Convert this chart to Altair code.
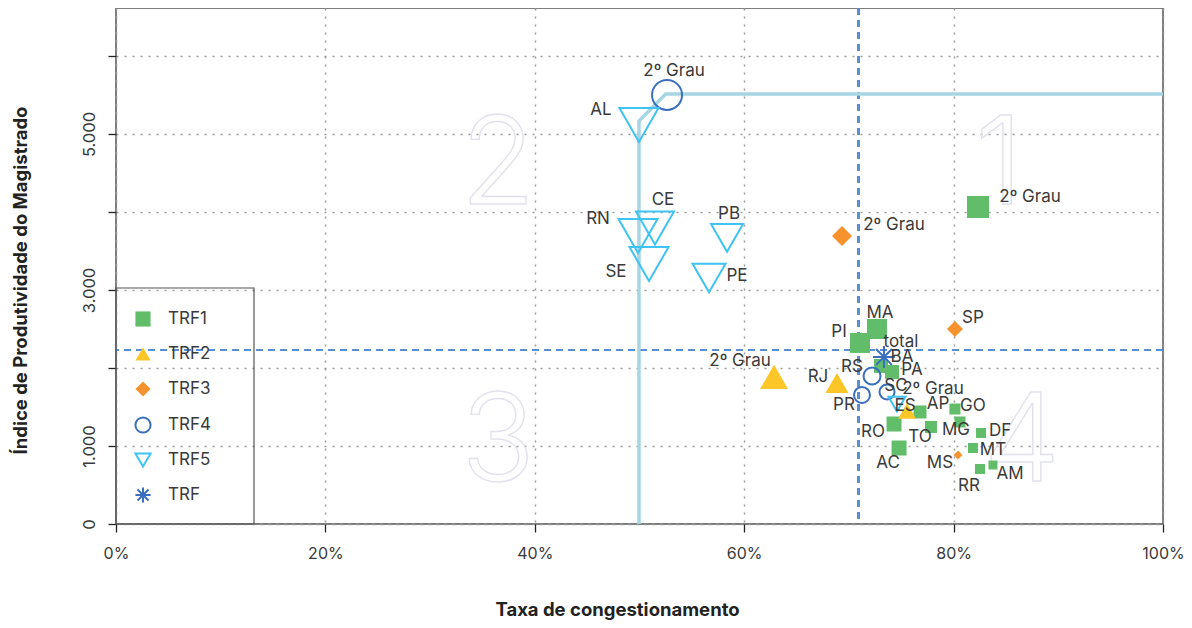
import altair as alt
import pandas as pd

# ---------------- data ----------------
W, H = 1047, 516          # plot area (px)
YMAX = 6615               # top of the y scale

grupos = ["TRF1"] * 15 + ["TRF2"] * 3 + ["TRF3"] * 3 + ["TRF4"] * 4 + ["TRF5"] * 7 + ["TRF"]
rotulos = ["2º Grau", "MA", "PI", "BA", "PA", "AP", "GO", "MG", "TO", "RO", "AC", "DF", "MT", "RR", "AM",
           "2º Grau", "RJ", "ES",
           "2º Grau", "SP", "MS",
           "2º Grau", "RS", "PR", "SC",
           "AL", "CE", "RN", "SE", "PB", "PE", "2º Grau",
           "total"]
taxa_congestionamento = [0.8233, 0.7268, 0.7106, 0.7307, 0.7412, 0.7679, 0.8013, 0.8061, 0.7784, 0.7431,
                         0.7479, 0.8262, 0.8185, 0.8252, 0.8376,
                         0.6285, 0.6886, 0.7555,
                         0.6934, 0.8013, 0.8042,
                         0.5263, 0.7221, 0.7125, 0.7364,
                         0.4995, 0.5148, 0.4986, 0.5091, 0.5836, 0.5664, 0.7459,
                         0.7335]
ipm = [4064, 2500, 2321, 2026, 1949, 1436, 1474, 1308, 1244, 1282, 974, 1167, 974, 705, 756,
       1885, 1808, 1449,
       3692, 2500, 885,
       5500, 1897, 1654, 1692,
       5115, 3795, 3692, 3333, 3667, 3154, 1538,
       2141]
tamanho = [22, 20, 20, 14, 14, 13, 11, 11, 12, 15, 15, 10, 10, 10, 9,
           28, 23, 18,
           20, 16, 9,
           30, 17, 16, 15,
           39, 38, 39, 39, 32, 33, 17,
           22]
# label offsets (px) from each marker
rot_dx = [52, 3, -21, 21, 20, 18, 18, -4, -11, -21, -11, 19, 20, -11, 17,
          -34, -19, -2,
          52, 18, -18,
          7, -20, -18, 9,
          -38, 8, -40, -33, 2, 28, 36,
          17]
rot_dy = [-10, -16, -11, -9, -2, -8, -3, 8, 10, 8, 15, -2, 2, 17, 9,
          -16, -6, -5,
          -11, -11, 8,
          -24, -9, 10, -6,
          -15, -28, -17, 8, -24, -2, -15,
          -15]

# frontier (TRF5 benchmark line)
fronteira_x = [0.4995, 0.4995, 0.525, 1.0]
fronteira_y = [0, 5167, 5513, 5513]

# medians (dashed lines)
media_x = 0.709
media_y = 2231

# quadrant numbers
quad_txt = ["1", "2", "3", "4"]
quad_x = [0.8434, 0.3649, 0.3649, 0.8653]
quad_y = [4100, 4100, 545, 555]

cats = ["TRF1", "TRF2", "TRF3", "TRF4", "TRF5", "TRF"]
asterisco = "M0,-1L0,1M-1,0L1,0M-0.72,-0.72L0.72,0.72M-0.72,0.72L0.72,-0.72"
shapes = ["square", "triangle-up", "diamond", "circle", "triangle-down", asterisco]
fills = ["#62bd6b", "#fcc628", "#f7922f", "transparent", "transparent", "transparent"]
strokes = ["transparent", "transparent", "transparent", "#3a6fbf", "#3ec3f2", "#3a6fbf"]

df = pd.DataFrame({
    "grupo": grupos, "rotulo": rotulos, "x": taxa_congestionamento, "y": ipm,
    "w": tamanho, "dx": rot_dx, "dy": rot_dy,
})
df_fr = pd.DataFrame({"x": fronteira_x, "y": fronteira_y, "o": list(range(len(fronteira_x)))})
df_q = pd.DataFrame({"t": quad_txt, "x": quad_x, "y": quad_y})

FONT = "Inter"
TXT = "#3a3a3a"
xs = alt.Scale(domain=[0, 1], nice=False)
ys = alt.Scale(domain=[0, YMAX], nice=False)

x_axis = alt.Axis(values=[0, 0.2, 0.4, 0.6, 0.8, 1.0], format=".0%", labelFontSize=16,
                  labelColor=TXT, tickSize=8, tickColor="#222", tickWidth=1.3, domain=False,
                  grid=True, gridDash=[2, 6], gridColor="#9a9a9a", gridWidth=1.5,
                  labelPadding=13, title="Taxa de congestionamento", titleFontSize=18.5,
                  titleFontWeight="bold", titleColor="#222", titleX=501, titleY=85,
                  titleAlign="center", titleBaseline="middle", labelFlush=False)
y_axis = alt.Axis(values=[0, 1000, 2000, 3000, 4000, 5000, 6000],
                  labelExpr="datum.value == 0 ? '0' : (datum.value % 2000 == 1000 ? replace(format(datum.value, ','), ',', '.') : '')",
                  labelFontSize=16.5, labelColor=TXT, labelAngle=-90, labelAlign="center",
                  labelBaseline="bottom", labelPadding=11, tickSize=8, tickColor="#222", tickWidth=1.3,
                  domain=False, grid=True, gridDash=[2, 6], gridColor="#9a9a9a", gridWidth=1.5,
                  title="Índice de Produtividade do Magistrado", titleFontSize=18.5,
                  titleFontWeight="bold", titleColor="#222", titleX=-96, titleY=272,
                  titleAngle=-90, titleAlign="center", titleBaseline="middle", labelFlush=False)

base_axes = alt.Chart(df).mark_point(opacity=0).encode(
    x=alt.X("x:Q", scale=xs, axis=x_axis),
    y=alt.Y("y:Q", scale=ys, axis=y_axis),
)

quad = alt.Chart(df_q).mark_text(fontSize=122, font=FONT, fontWeight=300, fill="transparent",
                                 stroke="#e2e2ec", strokeWidth=1.4, align="center",
                                 baseline="alphabetic").encode(
    x=alt.X("x:Q", scale=xs), y=alt.Y("y:Q", scale=ys), text="t:N")

vline = alt.Chart(df).mark_rule(color="#5b8fd6", strokeDash=[7, 5], strokeWidth=1.6).encode(
    x=alt.datum(media_x, scale=xs))
hline = alt.Chart(df).mark_rule(color="#5b8fd6", strokeDash=[7, 5], strokeWidth=1.6).encode(
    y=alt.datum(media_y, scale=ys))

front = alt.Chart(df_fr).mark_line(color="#a6d5e3", strokeWidth=3.5).encode(
    x=alt.X("x:Q", scale=xs), y=alt.Y("y:Q", scale=ys), order="o:Q")

legend = alt.Legend(title=None, orient="none", legendX=18, legendY=302, padding=0,
                    labelFontSize=17, labelFont=FONT, labelColor=TXT, symbolSize=230,
                    symbolStrokeWidth=2, rowPadding=12, labelOffset=16)

pts = alt.Chart(df).transform_calculate(size="datum.w * datum.w").mark_point(
    filled=False, strokeWidth=2, opacity=1).encode(
    x=alt.X("x:Q", scale=xs), y=alt.Y("y:Q", scale=ys),
    shape=alt.Shape("grupo:N", scale=alt.Scale(domain=cats, range=shapes), legend=legend),
    fill=alt.Fill("grupo:N", scale=alt.Scale(domain=cats, range=fills), legend=legend),
    stroke=alt.Stroke("grupo:N", scale=alt.Scale(domain=cats, range=strokes), legend=legend),
    size=alt.Size("size:Q", scale=None),
)

labels = alt.Chart(df).transform_calculate(
    lx=f"datum.x + datum.dx / {W}", ly=f"datum.y - datum.dy * {YMAX} / {H}"
).mark_text(font=FONT, fontSize=17, color=TXT, align="center", baseline="middle").encode(
    x=alt.X("lx:Q", scale=xs), y=alt.Y("ly:Q", scale=ys), text="rotulo:N")

leg_box = alt.Chart(pd.DataFrame({"a": [1]})).mark_rect(
    fill="transparent", stroke="#555", strokeWidth=1.2).encode(
    x=alt.value(0), x2=alt.value(138), y=alt.value(280), y2=alt.value(516))

chart = alt.layer(base_axes, quad, vline, hline, front, pts, labels, leg_box).properties(
    width=W, height=H,
    autosize=alt.AutoSizeParams(type="none"),
    padding={"left": 108, "top": 0, "right": 21, "bottom": 96},
).configure(font=FONT).configure_view(stroke="#555", strokeWidth=1.5)

chart.save("out.html", embed_options={"renderer": "svg", "actions": False})
